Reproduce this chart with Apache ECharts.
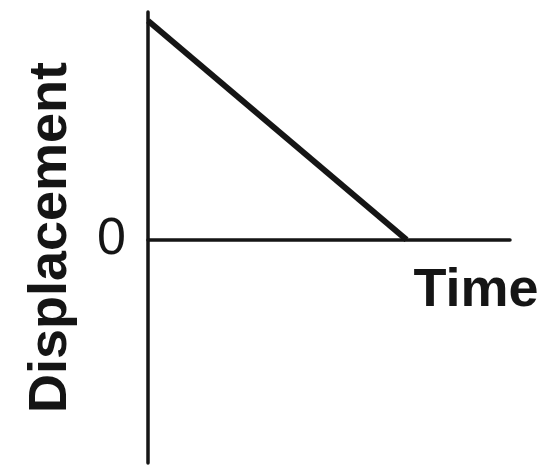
<!DOCTYPE html>
<html>
<head>
<meta charset="utf-8">
<script src="https://cdn.jsdelivr.net/npm/echarts@6/dist/echarts.min.js"></script>
<style>
  html, body { margin: 0; padding: 0; background: #fff; }
  #chart { width: 545px; height: 466px; }
</style>
</head>
<body>
<div id="chart"></div>
<script>
// data
const timeValues = [0, 10];
const displacementValues = [10, 0];
const yTickLabels = [0];

let myChart = echarts.init(document.getElementById('chart'));
let font = '"Liberation Sans", Arial, Helvetica, sans-serif';
let ink = '#151515';

let option = {
    animation: false,
    grid: { left: 148, right: 35, top: 12, bottom: 3 },
    xAxis: {
        type: 'value',
        min: 0,
        max: 14,
        name: 'Time',
        nameLocation: 'end',
        nameGap: -34,
        nameTextStyle: {
            fontFamily: font, fontSize: 54, fontWeight: 'bold', color: ink,
            align: 'center', verticalAlign: 'top', padding: [24, 0, 0, 0]
        },
        axisLine: { onZero: true, lineStyle: { color: ink, width: 3.5 } },
        axisTick: { show: false },
        axisLabel: { show: false },
        splitLine: { show: false }
    },
    yAxis: {
        type: 'value',
        min: -10.2,
        max: 10.4,
        name: 'Displacement',
        nameLocation: 'middle',
        nameGap: 70,
        nameTextStyle: {
            fontFamily: font, fontSize: 54, fontWeight: 'bold', color: ink
        },
        axisLine: { show: true, lineStyle: { color: ink, width: 3.5 } },
        axisTick: { show: false },
        axisLabel: {
            customValues: yTickLabels,
            margin: 22,
            fontFamily: font, fontSize: 52, color: ink
        },
        splitLine: { show: false }
    },
    series: [{
        type: 'line',
        data: timeValues.map((t, i) => [t, displacementValues[i]]),
        symbol: 'none',
        lineStyle: { color: ink, width: 6 }
    }]
};
myChart.setOption(option);
</script>
</body>
</html>
